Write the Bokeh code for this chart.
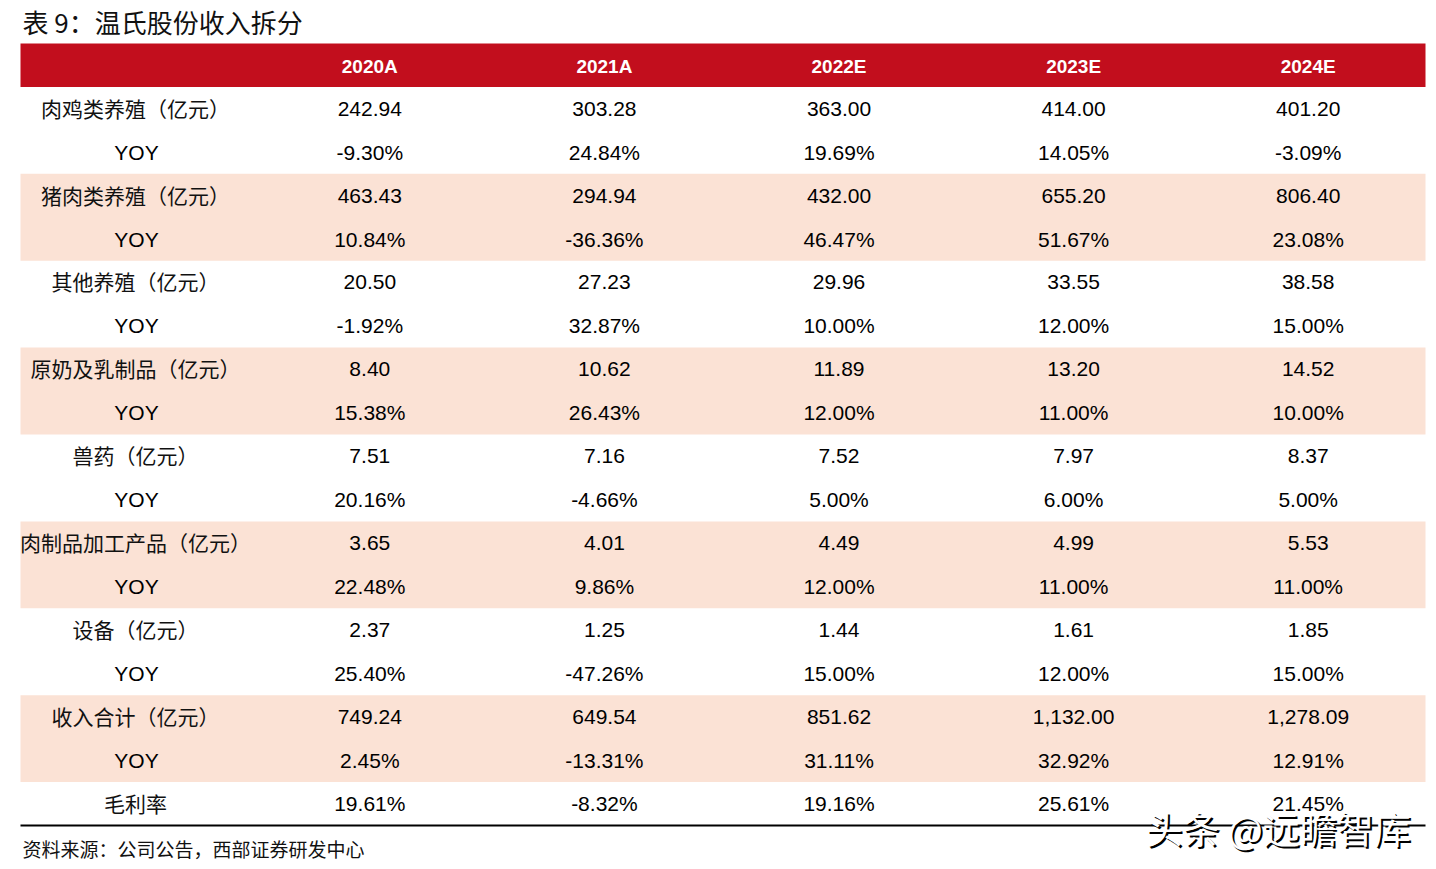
from bokeh.plotting import figure
from bokeh.models import Range1d
from bokeh.core.properties import value
from bokeh.embed import file_html
from bokeh.resources import INLINE

title = "表 9：温氏股份收入拆分"
source_note = "资料来源：公司公告，西部证券研发中心"
watermark = "头条 @远瞻智库"
years = ["2020A", "2021A", "2022E", "2023E", "2024E"]

categories = ["肉鸡类养殖（亿元）", "猪肉类养殖（亿元）", "其他养殖（亿元）", "原奶及乳制品（亿元）",
              "兽药（亿元）", "肉制品加工产品（亿元）", "设备（亿元）", "收入合计（亿元）"]
broiler = [242.94, 303.28, 363.00, 414.00, 401.20]
broiler_yoy = [-9.30, 24.84, 19.69, 14.05, -3.09]
hog = [463.43, 294.94, 432.00, 655.20, 806.40]
hog_yoy = [10.84, -36.36, 46.47, 51.67, 23.08]
other = [20.50, 27.23, 29.96, 33.55, 38.58]
other_yoy = [-1.92, 32.87, 10.00, 12.00, 15.00]
dairy = [8.40, 10.62, 11.89, 13.20, 14.52]
dairy_yoy = [15.38, 26.43, 12.00, 11.00, 10.00]
vet = [7.51, 7.16, 7.52, 7.97, 8.37]
vet_yoy = [20.16, -4.66, 5.00, 6.00, 5.00]
meat = [3.65, 4.01, 4.49, 4.99, 5.53]
meat_yoy = [22.48, 9.86, 12.00, 11.00, 11.00]
equip = [2.37, 1.25, 1.44, 1.61, 1.85]
equip_yoy = [25.40, -47.26, 15.00, 12.00, 15.00]
total = [749.24, 649.54, 851.62, 1132.00, 1278.09]
total_yoy = [2.45, -13.31, 31.11, 32.92, 12.91]
gross_margin_label = "毛利率"
gross_margin = [19.61, -8.32, 19.16, 25.61, 21.45]

pairs = [(broiler, broiler_yoy), (hog, hog_yoy), (other, other_yoy), (dairy, dairy_yoy),
         (vet, vet_yoy), (meat, meat_yoy), (equip, equip_yoy), (total, total_yoy)]

# build table rows
rows = []
for cat, (vals, yoy) in zip(categories, pairs):
    rows.append((cat, [f"{v:,.2f}" for v in vals], True))
    rows.append(("YOY", [f"{v:.2f}%" for v in yoy], False))
rows.append((gross_margin_label, [f"{v:.2f}%" for v in gross_margin], True))

# layout (screenshot pixel coords)
W, H = 1428, 861
left, right = 20, 1425
label_w = 232
col_w = (right - left - label_w) / len(years)
top = 43
row_h = (825 - top) / (len(rows) + 1)

RED = "#C20E1D"
PEACH = "#FBE2D5"
CJK = "Noto Sans CJK SC"
LAT = "Liberation Sans"

p = figure(width=W, height=H, output_backend="svg", toolbar_location=None,
           x_range=Range1d(0, W), y_range=Range1d(H, 0),
           min_border=0, outline_line_color=None)
p.axis.visible = False
p.grid.visible = False
p.background_fill_color = "white"

def col_center(i):
    return left + label_w + col_w * (i + 0.5)

label_cx = left + label_w / 2 - 2

# header
p.quad(left=[left], right=[right], top=[top], bottom=[top + row_h], fill_color=RED, line_color=None)
p.text(x=[col_center(i) for i in range(len(years))], y=[top + row_h / 2 + 1] * len(years), text=years,
       text_font=value(LAT), text_font_style="bold", text_font_size="19px", text_color="white",
       text_align="center", text_baseline="middle")

# shaded bands
band_tops, band_bottoms = [], []
for k in range(len(categories)):
    if k % 2 == 1:
        y0 = top + row_h * (1 + 2 * k)
        band_tops.append(y0)
        band_bottoms.append(y0 + 2 * row_h)
p.quad(left=left, right=right, top=band_tops, bottom=band_bottoms, fill_color=PEACH, line_color=None)

# labels and values
lx, ly, lt, yx, yy, yt = [], [], [], [], [], []
vx, vy, vt = [], [], []
for r, (lab, vals, is_cjk) in enumerate(rows):
    cy = top + row_h * (r + 1.5)
    if is_cjk:
        lx.append(label_cx + 1); ly.append(cy - 1); lt.append(lab)
    else:
        yx.append(label_cx + 2); yy.append(cy); yt.append(lab)
    for i, v in enumerate(vals):
        vx.append(col_center(i)); vy.append(cy); vt.append(v)

p.text(x=lx, y=ly, text=lt, text_font=value(CJK), text_font_size="21px", text_color="#111111",
       text_align="center", text_baseline="middle")
p.text(x=yx, y=yy, text=yt, text_font=value(LAT), text_font_size="21px", text_color="black",
       text_align="center", text_baseline="middle")
p.text(x=vx, y=vy, text=vt, text_font=value(LAT), text_font_size="21px", text_color="black",
       text_align="center", text_baseline="middle")

# bottom rule
p.line(x=[left, right], y=[825, 825], line_color="black", line_width=2)

# title and footnote
p.text(x=[22], y=[21], text=[title], text_font=value(CJK), text_font_size="26px", text_color="#111111",
       text_align="left", text_baseline="middle")
p.text(x=[22], y=[848], text=[source_note], text_font=value(CJK), text_font_size="19px", text_color="#111111",
       text_align="left", text_baseline="middle")

# watermark
p.text(x=[1147], y=[829], text=[watermark], text_font=value(CJK), text_font_size="37px", text_color="black",
       text_align="left", text_baseline="middle")
p.text(x=[1145], y=[827], text=[watermark], text_font=value(CJK), text_font_size="37px", text_color="white",
       text_align="left", text_baseline="middle")

open("out.html", "w").write(file_html(p, INLINE))
